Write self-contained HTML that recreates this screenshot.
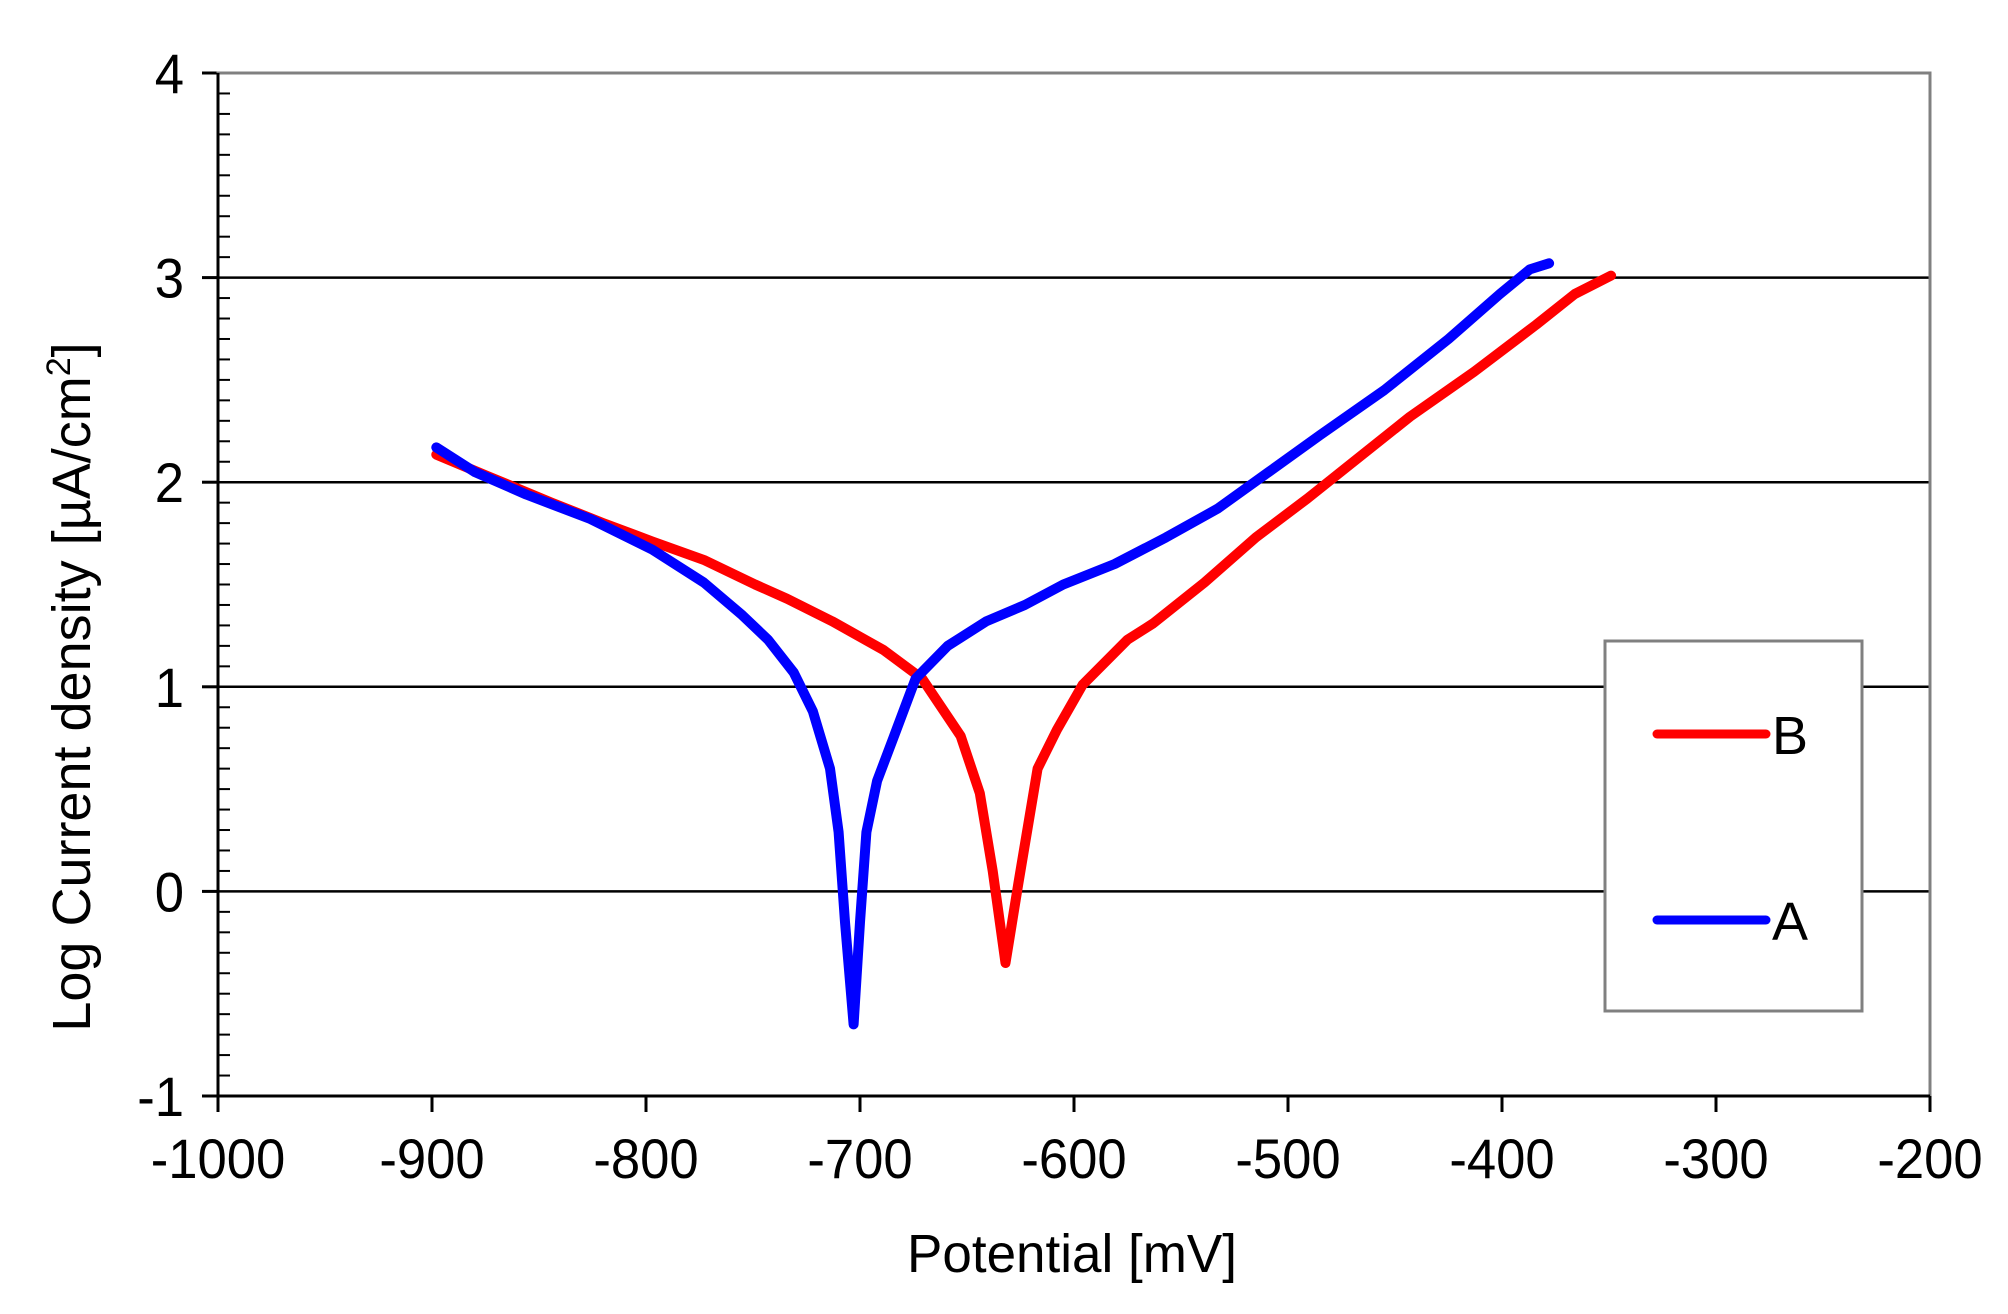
<!DOCTYPE html>
<html><head><meta charset="utf-8"><style>
html,body{margin:0;padding:0;background:#fff;}
svg{display:block;font-family:"Liberation Sans",Arial,sans-serif;}
</style></head><body>
<svg id="chart" width="2008" height="1314" viewBox="0 0 2008 1314">
<g id="grid"></g>
<g id="axes"></g>
<g id="series"></g>
<text x="907" y="1272" font-size="54" textLength="330" lengthAdjust="spacingAndGlyphs">Potential [mV]</text>
<text transform="translate(90,687) rotate(-90)" font-size="54" text-anchor="middle">Log Current density [µA/cm<tspan dy="-20" font-size="34">2</tspan><tspan dy="20">]</tspan></text>
<g>
<rect x="1605" y="641" width="257" height="370" fill="#fff" stroke="#808080" stroke-width="3"/>
<g>
<line x1="1657" y1="734" x2="1766" y2="734" stroke="#ff0000" stroke-width="9" stroke-linecap="round"/>
<text x="1772" y="754" font-size="54">B</text></g>
<g>
<line x1="1657" y1="920" x2="1766" y2="920" stroke="#0000ff" stroke-width="9" stroke-linecap="round"/>
<text x="1772" y="940" font-size="54">A</text></g>
</g>
</svg>
<script>
const xTicks=[-1000,-900,-800,-700,-600,-500,-400,-300,-200];
const yTicks=[-1,0,1,2,3,4];
const bX=[-898,-874,-844,-820,-797,-773,-749,-734,-713,-689,-671,-653,-644,-638,-632,-626,-617,-608,-596,-575,-563,-539,-515,-491,-473,-443,-413,-384,-366,-349];
const bY=[2.135,2.03,1.90,1.80,1.71,1.62,1.50,1.43,1.32,1.18,1.04,0.76,0.48,0.10,-0.35,0.04,0.60,0.79,1.01,1.23,1.31,1.51,1.73,1.92,2.07,2.32,2.54,2.77,2.92,3.01];
const aX=[-898,-880,-856,-826,-797,-773,-755,-743,-731,-722,-714,-710,-707,-703,-700,-697,-692,-683,-674,-659,-641,-623,-605,-581,-557,-533,-509,-485,-455,-425,-401,-387,-378];
const aY=[2.17,2.05,1.94,1.82,1.67,1.51,1.35,1.23,1.07,0.88,0.60,0.29,-0.15,-0.65,-0.15,0.29,0.54,0.79,1.04,1.20,1.32,1.40,1.50,1.60,1.73,1.87,2.05,2.23,2.45,2.70,2.92,3.04,3.07];
const L=218,R=1930,T=73,B=1096;
const sx=v=>L+(v+1000)/800*(R-L);
const sy=v=>B-(v+1)/5*(B-T);
const NS="http://www.w3.org/2000/svg";
function mk(tag,attrs,parent){const e=document.createElementNS(NS,tag);for(const k in attrs)e.setAttribute(k,attrs[k]);parent.appendChild(e);return e;}
const grid=document.getElementById('grid'),axes=document.getElementById('axes'),series=document.getElementById('series');
yTicks.forEach(v=>{
 if(v>-1&&v<4){const g=mk('line',{x1:L,x2:R,y1:sy(v),y2:sy(v),stroke:'#000','stroke-width':2.5},grid);
 
 }
 const t=mk('line',{x1:L-16,x2:L,y1:sy(v),y2:sy(v),stroke:'#000','stroke-width':3},axes);
 
 
 const lb=mk('text',{transform:'translate('+(L-34)+','+(sy(v)+20)+') scale(0.94,1)','font-size':56,'text-anchor':'end'},axes);lb.textContent=v;
 
 
});
for(let i=-10;i<=40;i++){if(i%10===0)continue;const v=i/10;
 const m=mk('line',{x1:L,x2:L+12,y1:sy(v),y2:sy(v),stroke:'#000','stroke-width':2},axes);
 
 }
mk('rect',{x:L,y:T,width:R-L,height:B-T,fill:'none',stroke:'#808080','stroke-width':3},axes);
mk('line',{x1:L,x2:L,y1:T,y2:B,stroke:'#000','stroke-width':3},axes);
mk('line',{x1:L,x2:R,y1:B,y2:B,stroke:'#000','stroke-width':3},axes);
xTicks.forEach(v=>{
 const t=mk('line',{x1:sx(v),x2:sx(v),y1:B,y2:B+16,stroke:'#000','stroke-width':3},axes);
 
 
 const lb=mk('text',{transform:'translate('+sx(v)+','+(B+82)+') scale(0.94,1)','font-size':56,'text-anchor':'middle'},axes);lb.textContent=v;
 
 
});
function line(xs,ys,col,name){
 const d=xs.map((x,i)=>(i?'L':'M')+sx(x).toFixed(1)+','+sy(ys[i]).toFixed(1)).join(' ');
 const p=mk('path',{d:d,fill:'none',stroke:col,'stroke-width':10,'stroke-linejoin':'round','stroke-linecap':'round'},series);
 
 
}
line(bX,bY,'#ff0000','series-b-line');
line(aX,aY,'#0000ff','series-a-line');
</script>
</body></html>
